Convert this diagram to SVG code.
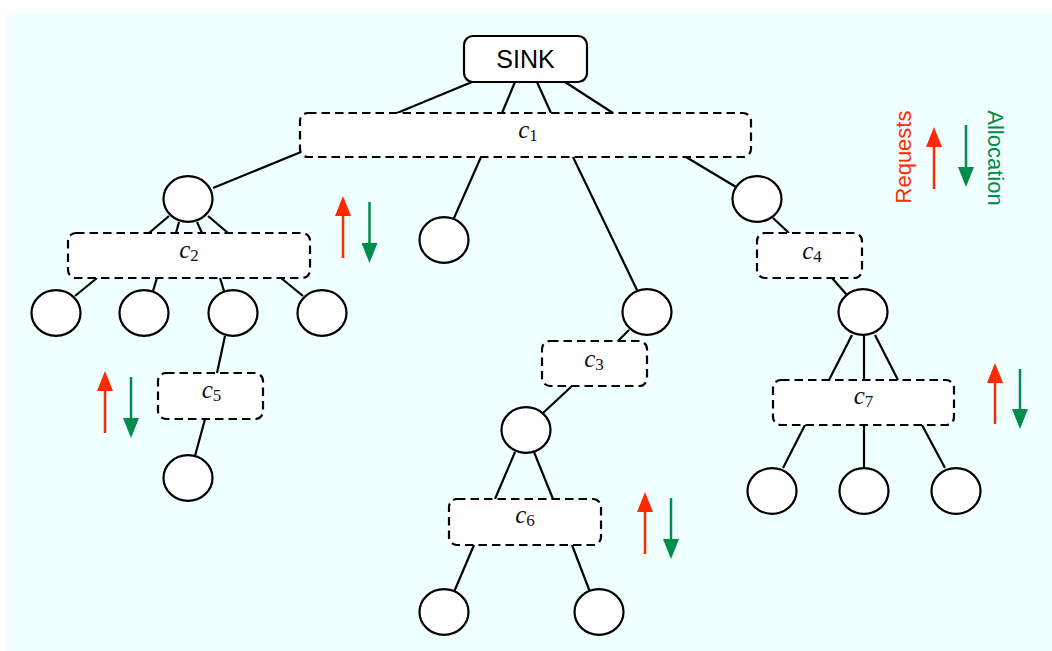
<svg xmlns="http://www.w3.org/2000/svg" width="1052" height="651" viewBox="0 0 1052 651">
<style>
.edge{stroke:#000;stroke-width:2.2;fill:none}
.node{fill:#fff;stroke:#000;stroke-width:2.2}
.cl{fill:#fff;stroke:#000;stroke-width:2.2;stroke-dasharray:8.5 5}
.lbl{font-family:"Liberation Serif","DejaVu Serif",serif;font-size:25px;text-anchor:middle;fill:#111}
.lbl .v{font-style:italic}
.lbl .s{font-size:17px}
.req{stroke:#ff2a00;stroke-width:2.5;fill:none;marker-end:url(#hr)}
.alc{stroke:#008c4a;stroke-width:2.5;fill:none;marker-end:url(#hg)}
.sink{font-family:"Liberation Sans",Arial,sans-serif;font-size:25px;text-anchor:middle;fill:#000}
.leg{font-family:"Liberation Sans",Arial,sans-serif;font-size:22px;text-anchor:middle}
</style>
<defs>
<marker id="hr" markerUnits="userSpaceOnUse" markerWidth="20" markerHeight="16" refX="0" refY="8" orient="auto"><path d="M0,0 L20,8 L0,16 z" fill="#ff2a00"/></marker>
<marker id="hg" markerUnits="userSpaceOnUse" markerWidth="20" markerHeight="16" refX="0" refY="8" orient="auto"><path d="M0,0 L20,8 L0,16 z" fill="#008c4a"/></marker>
</defs>
<rect x="7" y="13" width="1045" height="638" fill="#f0ffff"/>
<g id="connectors">
<line class="edge" x1="472" y1="82" x2="397" y2="113"/>
<line class="edge" x1="515" y1="82" x2="502" y2="113"/>
<line class="edge" x1="537" y1="82" x2="551" y2="113"/>
<line class="edge" x1="565" y1="82" x2="613" y2="113"/>
<line class="edge" x1="301" y1="152" x2="213" y2="188"/>
<line class="edge" x1="481" y1="157" x2="454" y2="218"/>
<line class="edge" x1="573" y1="157" x2="637" y2="290"/>
<line class="edge" x1="686" y1="157" x2="736" y2="187"/>
<line class="edge" x1="169" y1="216" x2="149" y2="233"/>
<line class="edge" x1="179" y1="222" x2="176" y2="233"/>
<line class="edge" x1="197" y1="222" x2="202" y2="233"/>
<line class="edge" x1="208" y1="216" x2="228" y2="233"/>
<line class="edge" x1="97" y1="278" x2="75" y2="296"/>
<line class="edge" x1="157" y1="278" x2="153" y2="291"/>
<line class="edge" x1="220" y1="278" x2="224" y2="291"/>
<line class="edge" x1="281" y1="278" x2="303" y2="296"/>
<line class="edge" x1="225" y1="336" x2="217" y2="373"/>
<line class="edge" x1="205" y1="419" x2="195" y2="456"/>
<line class="edge" x1="629" y1="330" x2="618" y2="341"/>
<line class="edge" x1="572" y1="386" x2="543" y2="413"/>
<line class="edge" x1="515" y1="452" x2="495" y2="499"/>
<line class="edge" x1="534" y1="452" x2="553" y2="499"/>
<line class="edge" x1="474" y1="545" x2="454" y2="592"/>
<line class="edge" x1="572" y1="545" x2="590" y2="592"/>
<line class="edge" x1="773" y1="218" x2="789" y2="233"/>
<line class="edge" x1="832" y1="278" x2="847" y2="295"/>
<line class="edge" x1="852" y1="335" x2="829" y2="380"/>
<line class="edge" x1="864" y1="335" x2="864" y2="380"/>
<line class="edge" x1="875" y1="335" x2="898" y2="380"/>
<line class="edge" x1="805" y1="425" x2="783" y2="468"/>
<line class="edge" x1="864" y1="425" x2="864" y2="468"/>
<line class="edge" x1="922" y1="425" x2="945" y2="468"/>
</g>
<g id="sink"><rect class="node" x="464" y="36" width="123" height="46" rx="9"/><text class="sink" x="525.5" y="68">SINK</text></g>
<g id="c1"><rect class="cl" x="300" y="113" width="451" height="44" rx="8"/><text class="lbl" x="528" y="138"><tspan class="v">c</tspan><tspan class="s" dy="3">1</tspan></text></g>
<g id="c2"><rect class="cl" x="68" y="233" width="242" height="45" rx="8"/><text class="lbl" x="189" y="258"><tspan class="v">c</tspan><tspan class="s" dy="3">2</tspan></text></g>
<g id="c3"><rect class="cl" x="542" y="341" width="105" height="45" rx="8"/><text class="lbl" x="594" y="367"><tspan class="v">c</tspan><tspan class="s" dy="3">3</tspan></text></g>
<g id="c4"><rect class="cl" x="757" y="233" width="105" height="45" rx="8"/><text class="lbl" x="812" y="259"><tspan class="v">c</tspan><tspan class="s" dy="3">4</tspan></text></g>
<g id="c5"><rect class="cl" x="158" y="373" width="105" height="46" rx="8"/><text class="lbl" x="211.5" y="398"><tspan class="v">c</tspan><tspan class="s" dy="3">5</tspan></text></g>
<g id="c6"><rect class="cl" x="449" y="499" width="152" height="46" rx="8"/><text class="lbl" x="525" y="523"><tspan class="v">c</tspan><tspan class="s" dy="3">6</tspan></text></g>
<g id="c7"><rect class="cl" x="773" y="380" width="181" height="45" rx="8"/><text class="lbl" x="863.5" y="404"><tspan class="v">c</tspan><tspan class="s" dy="3">7</tspan></text></g>
<g id="n1"><ellipse class="node" cx="188" cy="199" rx="24.5" ry="22.8"/></g>
<g id="n2"><ellipse class="node" cx="444" cy="240" rx="24.5" ry="22.8"/></g>
<g id="n3"><ellipse class="node" cx="647" cy="312" rx="24.5" ry="22.8"/></g>
<g id="n4"><ellipse class="node" cx="757" cy="199" rx="24.5" ry="22.8"/></g>
<g id="n5"><ellipse class="node" cx="56" cy="313" rx="24.5" ry="22.8"/></g>
<g id="n6"><ellipse class="node" cx="144" cy="313" rx="24.5" ry="22.8"/></g>
<g id="n7"><ellipse class="node" cx="233" cy="313" rx="24.5" ry="22.8"/></g>
<g id="n8"><ellipse class="node" cx="322" cy="313" rx="24.5" ry="22.8"/></g>
<g id="n9"><ellipse class="node" cx="188" cy="478" rx="24.5" ry="22.8"/></g>
<g id="n10"><ellipse class="node" cx="526" cy="430" rx="24.5" ry="22.8"/></g>
<g id="n11"><ellipse class="node" cx="444" cy="612" rx="24.5" ry="22.8"/></g>
<g id="n12"><ellipse class="node" cx="599" cy="612" rx="24.5" ry="22.8"/></g>
<g id="n13"><ellipse class="node" cx="863" cy="312" rx="24.5" ry="22.8"/></g>
<g id="n14"><ellipse class="node" cx="772" cy="491" rx="24.5" ry="22.8"/></g>
<g id="n15"><ellipse class="node" cx="864" cy="491" rx="24.5" ry="22.8"/></g>
<g id="n16"><ellipse class="node" cx="956" cy="491" rx="24.5" ry="22.8"/></g>
<g id="arrows">
<line class="req" x1="343" y1="258" x2="343" y2="216"/>
<line class="alc" x1="369.5" y1="202" x2="369.5" y2="243"/>
<line class="req" x1="105" y1="433" x2="105" y2="391"/>
<line class="alc" x1="131" y1="377" x2="131" y2="418"/>
<line class="req" x1="645" y1="554" x2="645" y2="512"/>
<line class="alc" x1="671" y1="498" x2="671" y2="539"/>
<line class="req" x1="995" y1="424" x2="995" y2="383"/>
<line class="alc" x1="1020" y1="369" x2="1020" y2="409"/>
</g>
<g id="legend">
<line class="req" x1="934" y1="189" x2="934" y2="147"/>
<line class="alc" x1="966" y1="125" x2="966" y2="167"/>
<text class="leg" fill="#ff2a00" transform="translate(911,157) rotate(-90)">Requests</text>
<text class="leg" fill="#008c4a" transform="translate(988,158) rotate(90)">Allocation</text>
</g>
</svg>
